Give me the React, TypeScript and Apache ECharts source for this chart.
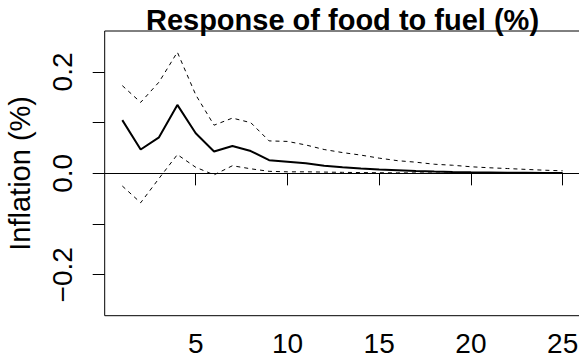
import React, { useEffect, useRef } from "react";
import * as echarts from "echarts";

const horizons = [1, 2, 3, 4, 5, 6, 7, 8, 9, 10, 11, 12, 13, 14, 15, 16, 17, 18, 19, 20, 21, 22, 23, 24, 25];
const response = [0.105, 0.047, 0.071, 0.135, 0.079, 0.043, 0.054, 0.044, 0.026, 0.023, 0.020, 0.015, 0.012, 0.0095, 0.0075, 0.006, 0.0045, 0.0035, 0.0028, 0.0022, 0.0017, 0.0013, 0.001, 0.0008, 0.0006];
const upper = [0.173, 0.140, 0.180, 0.239, 0.155, 0.095, 0.109, 0.100, 0.064, 0.063, 0.056, 0.047, 0.041, 0.036, 0.030, 0.025, 0.022, 0.018, 0.016, 0.013, 0.011, 0.0095, 0.0078, 0.0062, 0.005];
const lower = [-0.025, -0.058, -0.010, 0.037, 0.012, -0.003, 0.015, 0.009, 0.004, 0.003, 0.003, 0.0025, 0.002, 0.0015, 0.0012, 0.001, 0.0008, 0.0006, 0.0005, 0.0004, 0.0003, 0.0002, 0.0002, 0.0001, 0.0001];
const xTicks = [5, 10, 15, 20, 25];
const yTicks = [-0.2, -0.1, 0, 0.1, 0.2];
const yLabels = [-0.2, 0, 0.2];

const FONT = "Liberation Sans, Arial, Helvetica, sans-serif";

export default function App() {
  const ref = useRef<HTMLDivElement>(null);
  useEffect(() => {
    if (!ref.current) return;
    const chart = echarts.init(ref.current, undefined, { renderer: "svg" });
    const toPairs = (vals: number[]) => horizons.map((h, i) => [h, vals[i]]);
    chart.setOption({
      animation: false,
      title: {
        text: "Response of food to fuel (%)",
        left: 342.5,
        top: 5,
        padding: 0,
        textAlign: "center",
        textStyle: { fontFamily: FONT, fontSize: 29, fontWeight: "bold", color: "#000" },
      },
      grid: {
        left: 104.7,
        top: 31,
        width: 475.6,
        height: 284.7,
        show: true,
        borderColor: "#000",
        borderWidth: 1,
        outerBoundsMode: "none",
        containLabel: false,
      },
      xAxis: {
        type: "value",
        min: 0.04,
        max: 25.96,
        axisLine: { show: false },
        splitLine: { show: false },
        axisTick: { show: true, length: 12, inside: false, customValues: xTicks, lineStyle: { color: "#000", width: 1 } },
        axisLabel: {
          customValues: xTicks,
          margin: 14,
          fontFamily: FONT,
          fontSize: 28,
          color: "#000",
        },
      },
      yAxis: {
        type: "value",
        min: -0.2808,
        max: 0.2808,
        name: "Inflation (%)",
        nameLocation: "middle",
        nameRotate: 90,
        nameGap: 70,
        nameTextStyle: { fontFamily: FONT, fontSize: 29, color: "#000" },
        axisLine: { show: false },
        splitLine: { show: false },
        axisTick: { show: true, length: 12, inside: false, customValues: yTicks, lineStyle: { color: "#000", width: 1 } },
        axisLabel: {
          customValues: yLabels,
          rotate: 90,
          margin: 28,
          fontFamily: FONT,
          fontSize: 28,
          color: "#000",
          formatter: (v: number) => (Math.abs(v) < 1e-9 ? "0.0" : (v < 0 ? "\u2212" : "") + Math.abs(v).toFixed(1)),
        },
      },
      series: [
        {
          type: "line",
          data: toPairs(response),
          symbol: "none",
          lineStyle: { color: "#000", width: 2 },
          markLine: {
            silent: true,
            symbol: "none",
            label: { show: false },
            lineStyle: { color: "#000", width: 1, type: "solid" },
            data: [{ yAxis: 0 }],
          },
          z: 3,
        },
        {
          type: "line",
          data: toPairs(upper),
          symbol: "none",
          lineStyle: { color: "#000", width: 1, type: [4, 4] },
        },
        {
          type: "line",
          data: toPairs(lower),
          symbol: "none",
          lineStyle: { color: "#000", width: 1, type: [4, 4] },
        },
      ],
    });
    return () => chart.dispose();
  }, []);
  return <div ref={ref} style={{ position: "absolute", left: 0, top: 0, width: 579, height: 361 }} />;
}
